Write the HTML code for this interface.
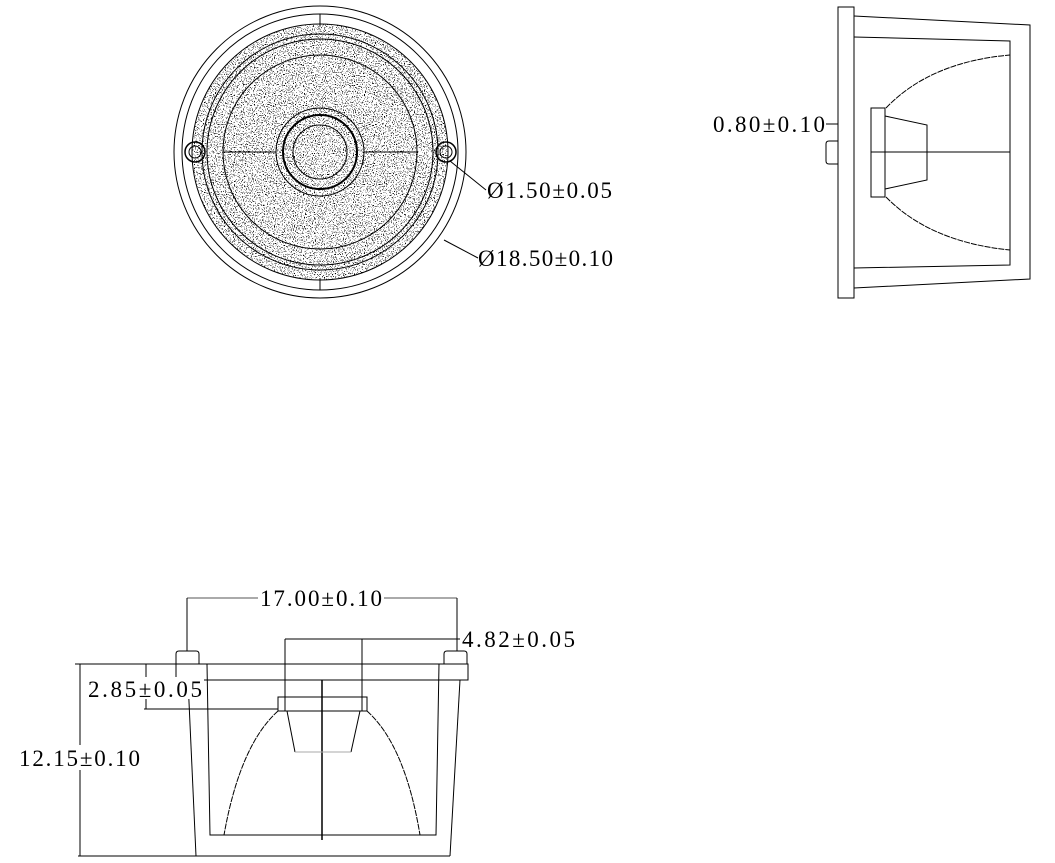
<!DOCTYPE html>
<html><head><style>
html,body{margin:0;padding:0;background:#fff;}
svg{display:block;}
text{font-family:"Liberation Serif",serif;font-size:23px;fill:#000;}
</style></head><body>
<svg width="1055" height="863" viewBox="0 0 1055 863" xmlns="http://www.w3.org/2000/svg">
<defs>
<filter id="st" x="0" y="0" width="100%" height="100%">
<feTurbulence type="fractalNoise" baseFrequency="0.9" numOctaves="1" seed="3" result="n"/>
<feColorMatrix in="n" type="matrix" values="0 0 0 0 0  0 0 0 0 0  0 0 0 0 0  0 0 0 -16 6.6"/>
<feComposite in2="SourceGraphic" operator="in"/>
</filter>
</defs>
<g fill="none" stroke="#000" stroke-width="1">
<!-- top view -->
<circle cx="320" cy="152" r="128" fill="#333" stroke="none" filter="url(#st)"/>
<circle cx="320" cy="152" r="146"/>
<circle cx="320" cy="152" r="138"/>
<circle cx="320" cy="152" r="128"/>
<circle cx="320" cy="152" r="118"/>
<circle cx="320" cy="152" r="113"/>
<circle cx="320" cy="152" r="97"/>
<circle cx="320" cy="152" r="44"/>
<circle cx="320" cy="152" r="37" stroke-width="2"/>
<circle cx="320" cy="152" r="27"/>
<line x1="223" y1="152" x2="276" y2="152"/>
<line x1="364" y1="152" x2="418" y2="152"/>
<line x1="320" y1="14" x2="320" y2="26"/>
<line x1="320" y1="278" x2="320" y2="290"/>
<circle cx="195" cy="152" r="10" stroke-width="1.5"/><circle cx="195" cy="152" r="6"/>
<circle cx="446" cy="152" r="10" stroke-width="1.5"/><circle cx="446" cy="152" r="6"/>
<line x1="450" y1="161" x2="486" y2="190"/>
<line x1="444" y1="240" x2="478" y2="258"/>
<!-- side view -->
<rect x="838" y="7" width="16" height="291"/>
<polyline points="854,16 1030,25 1030,279 854,288"/>
<polyline points="854,37 1010,41 1010,265 854,268"/>
<rect x="871" y="108" width="14" height="89"/>
<polyline points="885,116 927,125 927,180 885,189"/>
<line x1="871" y1="152" x2="1010" y2="152"/>
<path d="M886,108 Q930,62 1010,55" stroke-dasharray="6,1"/>
<path d="M886,197 Q930,242 1010,250" stroke-dasharray="6,1"/>
<line x1="826" y1="124" x2="838" y2="124"/>
<path d="M838,141 H829 Q826,141 826,144 V161 Q826,164 829,164 H838"/>
<!-- bottom view -->
<line x1="187" y1="598" x2="258" y2="598" stroke="#555"/><line x1="384" y1="598" x2="457" y2="598" stroke="#555"/>
<line x1="187" y1="598" x2="187" y2="651"/><line x1="457" y1="598" x2="457" y2="651"/>
<path d="M176,664 V654 Q176,651 179,651 H196 Q199,651 199,654 V664"/>
<path d="M444,664 V654 Q444,651 447,651 H464 Q467,651 467,654 V664"/>
<rect x="176" y="664" width="292" height="16"/>
<line x1="188" y1="680" x2="196" y2="856"/>
<line x1="460" y1="680" x2="450" y2="856"/>
<line x1="78" y1="856" x2="450" y2="856"/>
<line x1="75" y1="664" x2="176" y2="664"/>
<line x1="80" y1="664" x2="80" y2="745"/><line x1="80" y1="770" x2="80" y2="856"/>
<polyline points="207,664 210,835 436,835 439,664"/>
<rect x="278" y="697" width="89" height="14"/>
<line x1="285" y1="639" x2="285" y2="711"/><line x1="362" y1="639" x2="362" y2="711"/>
<line x1="285" y1="639" x2="460" y2="639"/>
<line x1="146" y1="664" x2="146" y2="709"/>
<line x1="144" y1="709" x2="278" y2="709"/>
<line x1="322" y1="680" x2="322" y2="840" stroke-width="1.5"/>
<line x1="287" y1="711" x2="295" y2="752"/><line x1="360" y1="711" x2="351" y2="752"/>
<line x1="295" y1="752" x2="351" y2="752" stroke="#aaa"/>
<path d="M278,711 Q240,745 224,835" stroke-dasharray="6,1"/>
<path d="M367,711 Q405,745 420,835" stroke-dasharray="6,1"/>
</g>
<text x="260" y="606" textLength="122" lengthAdjust="spacing">17.00±0.10</text>
<text x="462" y="647" textLength="113" lengthAdjust="spacing">4.82±0.05</text>
<rect x="88" y="677" width="116" height="22" fill="#fff"/>
<text x="88" y="697" textLength="114" lengthAdjust="spacing">2.85±0.05</text>
<rect x="18" y="746" width="124" height="22" fill="#fff"/>
<text x="19" y="766" textLength="121" lengthAdjust="spacing">12.15±0.10</text>
<text x="487" y="198" textLength="125" lengthAdjust="spacing">Ø1.50±0.05</text>
<text x="478" y="266" textLength="135" lengthAdjust="spacing">Ø18.50±0.10</text>
<text x="713" y="132" textLength="112" lengthAdjust="spacing">0.80±0.10</text>
</svg>
</body></html>
